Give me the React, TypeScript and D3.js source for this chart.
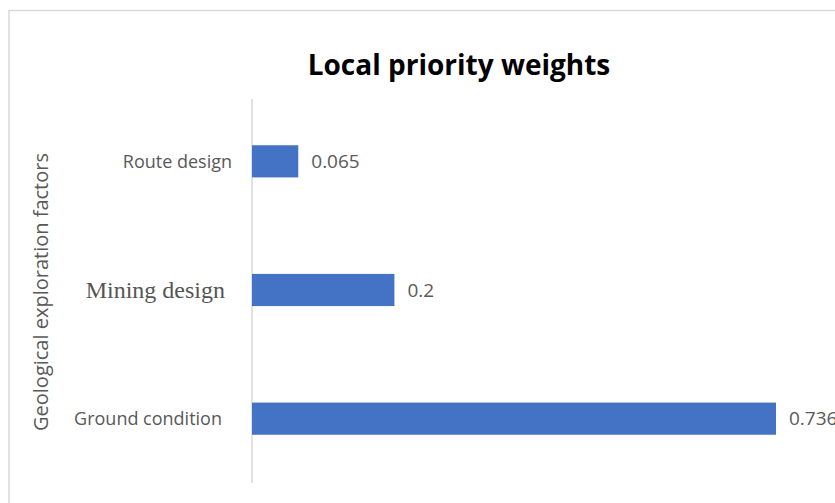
import React from "react";
import * as d3 from "d3";

const categories = ["Route design", "Mining design", "Ground condition"];
const values = [0.065, 0.2, 0.736];
const valueLabels = ["0.065", "0.2", "0.736"];
const title = "Local priority weights";
const axisTitle = "Geological exploration factors";

export default function App() {
  const W = 835, H = 503;
  const x0 = 252, top = 97, bottom = 483;
  const x = d3.scaleLinear().domain([0, 0.736]).range([x0, 776]);
  const y = d3.scaleBand<string>().domain(categories).range([top, bottom]).paddingInner(0.75).paddingOuter(0.375);
  const sans = "'Open Sans', 'Noto Sans', sans-serif";
  return (
    <svg width={W} height={H} style={{ position: "absolute", left: 0, top: 0, background: "#fff" }}>
      <rect x={9} y={10.5} width={900} height={600} fill="#fff" stroke="#d9d9d9" strokeWidth={1.5} />
      <text x={459} y={75} textAnchor="middle" fontFamily={sans} fontWeight={700} fontSize={28} fill="#000">{title}</text>
      <line x1={x0} x2={x0} y1={99} y2={bottom} stroke="#d9d9d9" strokeWidth={1.5} />
      {categories.map((c, i) => {
        const yy = y(c)!;
        const cy = yy + y.bandwidth() / 2;
        const isSerif = c === "Mining design";
        return (
          <g key={c}>
            <rect x={x(0)} y={yy} width={x(values[i]) - x(0)} height={y.bandwidth()} fill="#4472C4" />
            <text x={x(values[i]) + 13} y={cy} dy="0.35em" fontFamily={sans} fontSize={19} fill="#595959">{valueLabels[i]}</text>
            <text x={isSerif ? 225 : i === 0 ? 232 : 222} y={cy} dy="0.35em" textAnchor="end"
              fontFamily={isSerif ? "'Liberation Serif', 'DejaVu Serif', serif" : sans}
              fontSize={isSerif ? 24 : 18} fill={isSerif ? "#555" : "#595959"}>{c}</text>
          </g>
        );
      })}
      <text transform={`translate(48, 292) rotate(-90)`} textAnchor="middle" fontFamily={sans} fontSize={20} fill="#595959">{axisTitle}</text>
    </svg>
  );
}
